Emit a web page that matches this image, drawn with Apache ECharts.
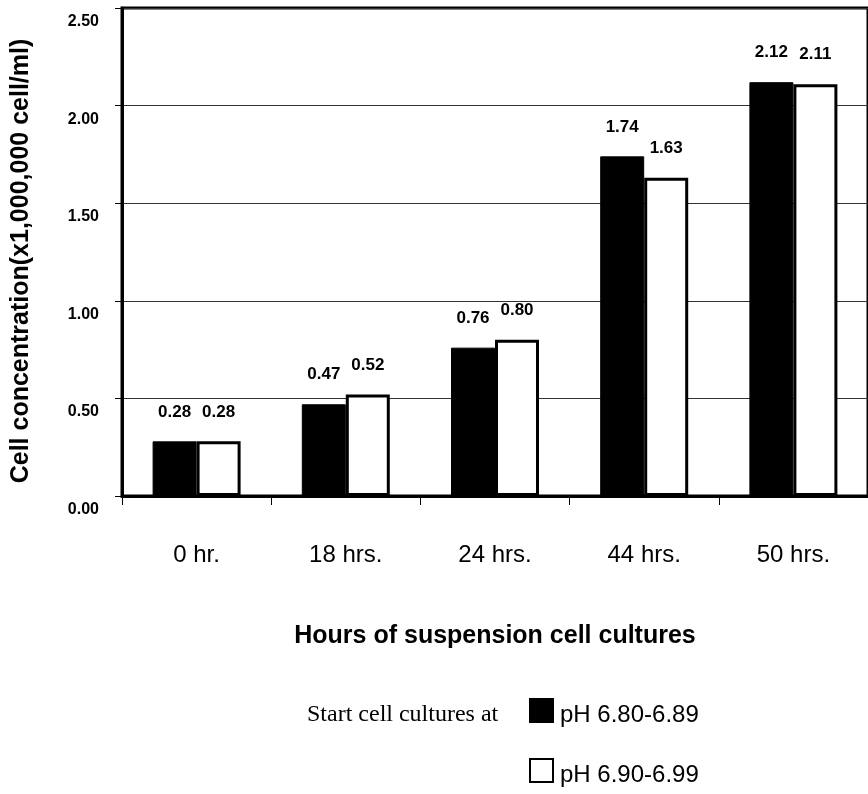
<!DOCTYPE html>
<html>
<head>
<meta charset="utf-8">
<script src="https://cdn.jsdelivr.net/npm/echarts@6/dist/echarts.min.js"></script>
<style>
  html, body { margin: 0; padding: 0; background: #fff; }
  #chart { width: 868px; height: 794px; }
</style>
</head>
<body>
<div id="chart"></div>
<script>
// Cell concentration by culture time, two starting pH ranges
const categories = ['0 hr.', '18 hrs.', '24 hrs.', '44 hrs.', '50 hrs.'];
const phLow = [0.28, 0.47, 0.76, 1.74, 2.12];   // pH 6.80-6.89
const phHigh = [0.28, 0.52, 0.80, 1.63, 2.11];  // pH 6.90-6.99
const seriesNames = ['pH 6.80-6.89', 'pH 6.90-6.99'];
const yTicks = [0, 0.5, 1.0, 1.5, 2.0, 2.5];

const SANS = 'Liberation Sans, Arial, sans-serif';
const chart = echarts.init(document.getElementById('chart'));

const labelStyle = {
  show: true,
  position: 'top',
  distance: 21,
  fontFamily: SANS,
  fontWeight: 'bold',
  fontSize: 17,
  color: '#000',
  formatter: p => p.value.toFixed(2)
};

// one legend block per series, stacked vertically
const legendItem = (name, top) => ({
  orient: 'vertical',
  left: 529, top: top,
  padding: 0,
  itemWidth: 23, itemHeight: 23,
  icon: 'rect',
  formatter: '{t|{name}}',
  textStyle: {
    fontFamily: SANS, fontSize: 24, color: '#000',
    rich: { t: { fontFamily: SANS, fontSize: 24, color: '#000', padding: [10, 0, 0, 2] } }
  },
  data: [name]
});

chart.setOption({
  animation: false,
  backgroundColor: '#fff',
  grid: {
    left: 122, top: 8, width: 751, bottom: 298,
    show: true, borderColor: '#000', borderWidth: 3, backgroundColor: 'transparent'
  },
  legend: [legendItem(seriesNames[0], 698), legendItem(seriesNames[1], 758)],
  xAxis: {
    type: 'category',
    data: categories,
    axisLine: { lineStyle: { color: '#000', width: 3 } },
    axisTick: { show: true, length: 9, lineStyle: { color: '#000', width: 1 } },
    axisLabel: {
      margin: 47,
      fontFamily: SANS,
      fontSize: 24, color: '#000'
    },
    name: 'Hours of suspension cell cultures',
    nameLocation: 'middle',
    nameGap: 128,
    nameTextStyle: {
      fontFamily: SANS,
      fontWeight: 'bold', fontSize: 25, color: '#000'
    }
  },
  yAxis: {
    type: 'value',
    min: 0, max: 2.5, interval: 0.5,
    axisLine: { show: true, lineStyle: { color: '#000', width: 3 } },
    axisTick: { show: true, length: 7, lineStyle: { color: '#000', width: 1 } },
    splitLine: { show: true, lineStyle: { color: '#333', width: 1 } },
    axisLabel: {
      margin: 23,
      verticalAlign: 'top',
      lineHeight: 27,
      fontFamily: SANS,
      fontWeight: 'bold', fontSize: 16, color: '#000',
      formatter: v => yTicks.includes(v) ? v.toFixed(2) : ''
    },
    name: 'Cell concentration(x1,000,000 cell/ml)',
    nameLocation: 'middle',
    nameGap: 88,
    nameTextStyle: {
      fontFamily: SANS,
      fontWeight: 'bold', fontSize: 25, color: '#000',
      padding: [0, 18, 0, 0]
    }
  },
  graphic: [{
    type: 'text',
    left: 307, top: 703,
    style: {
      text: 'Start cell cultures at',
      font: '24px "Liberation Serif", "Times New Roman", serif',
      fill: '#000'
    }
  }],
  series: [
    {
      name: seriesNames[0],
      type: 'bar',
      data: phLow,
      barWidth: 44,
      barGap: '0%',
      itemStyle: { color: '#000', borderColor: '#000', borderWidth: 1 },
      label: labelStyle
    },
    {
      name: seriesNames[1],
      type: 'bar',
      data: phHigh,
      barWidth: 44,
      barGap: '0%',
      itemStyle: { color: '#fff', borderColor: '#000', borderWidth: 3 },
      label: labelStyle
    }
  ]
});
</script>
</body>
</html>
